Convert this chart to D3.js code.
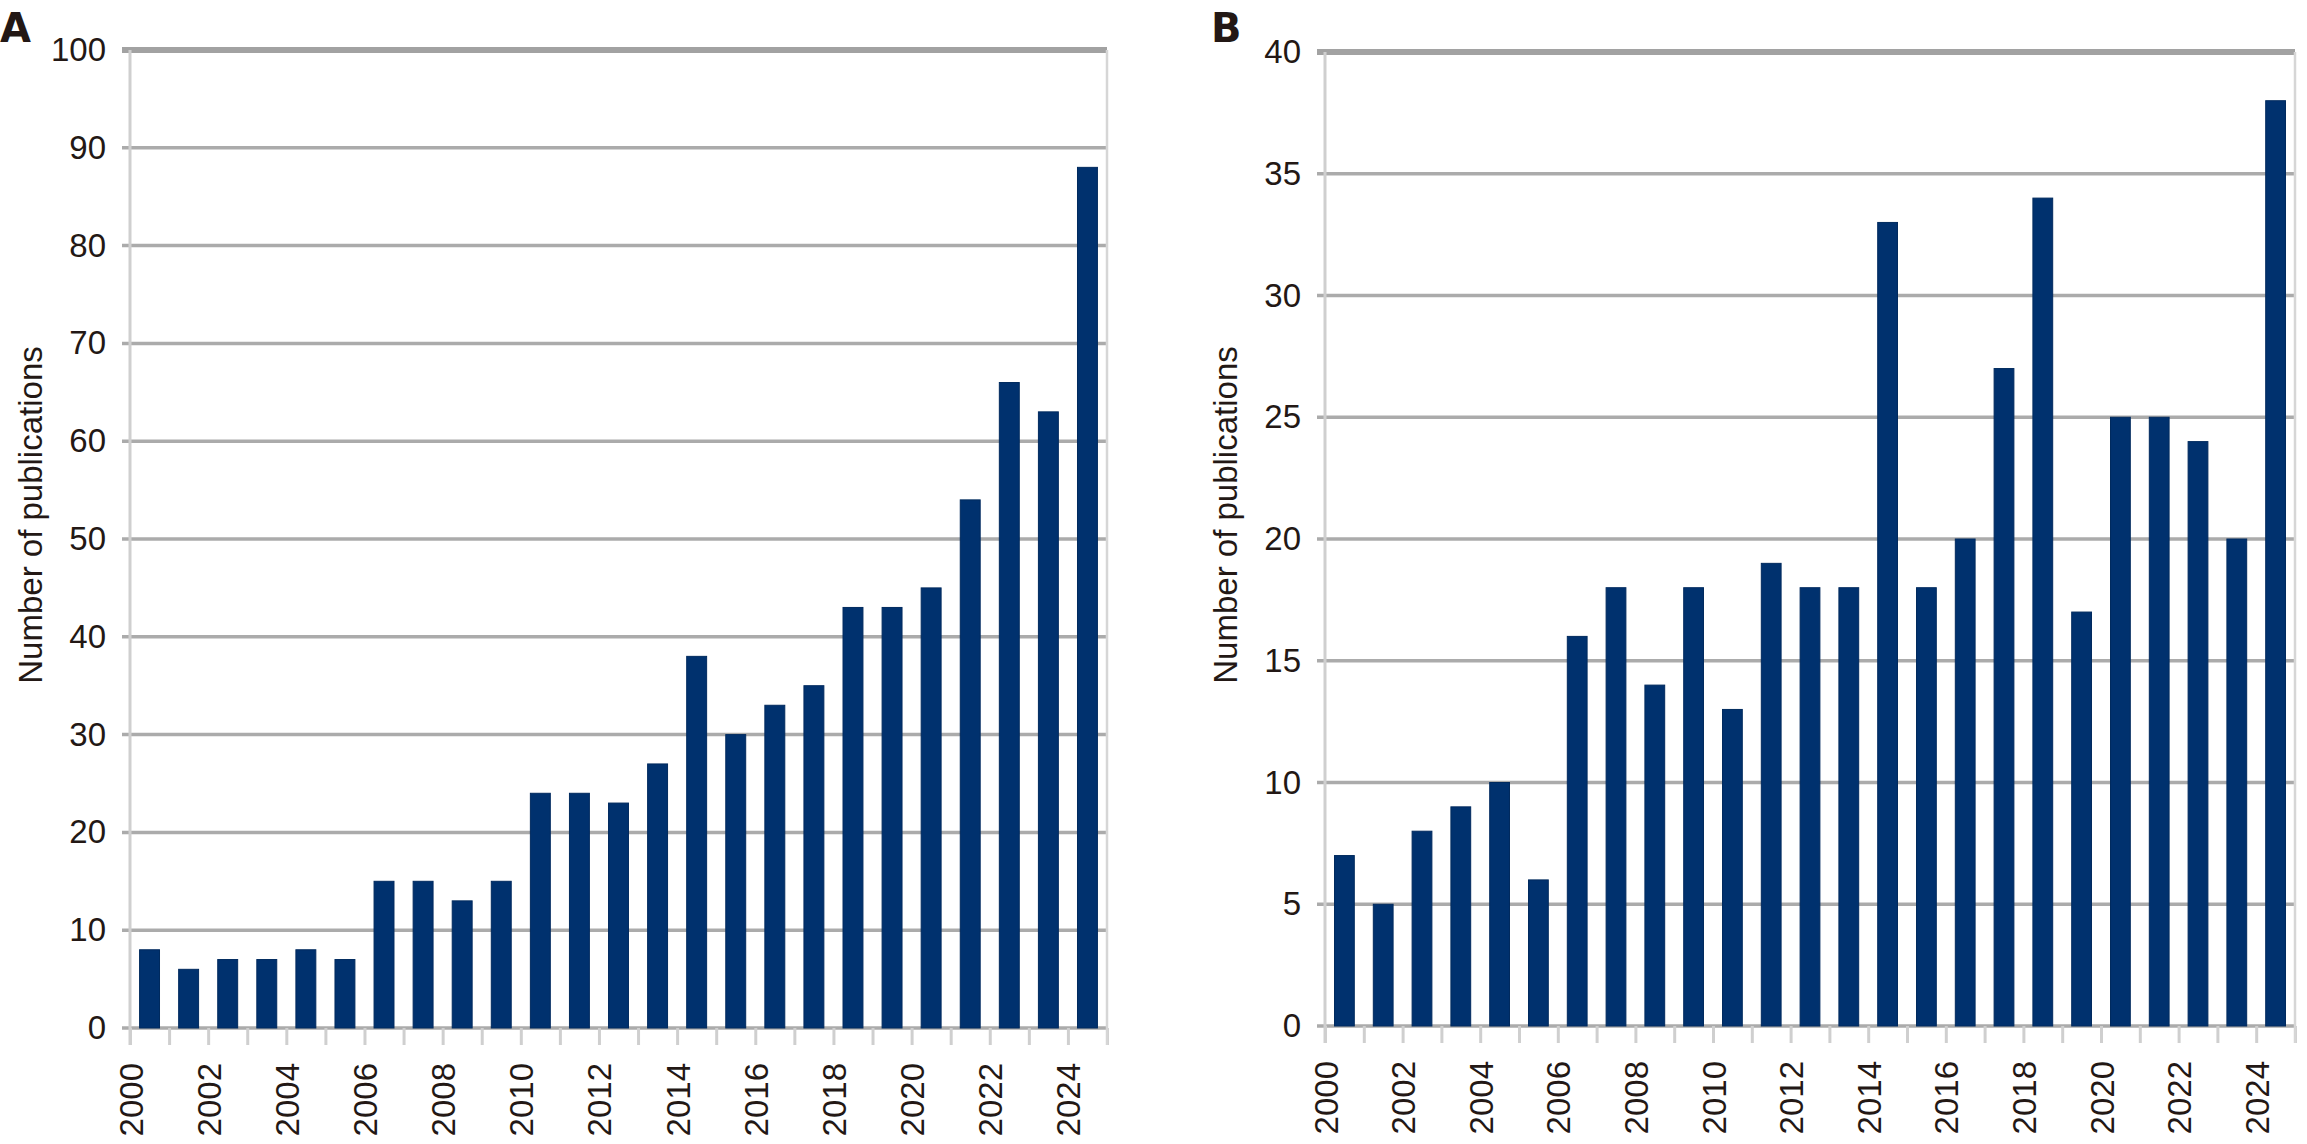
<!DOCTYPE html>
<html>
<head>
<meta charset="utf-8">
<script src="https://cdn.jsdelivr.net/npm/d3@7"></script>
<style>
  body { margin: 0; background: #fff; }
  svg { display: block; }
  text { font-family: "Liberation Sans", Arial, sans-serif; fill: #231815; }
</style>
</head>
<body>
<div id="chart"></div>
<script>
// data
var years = [2000, 2001, 2002, 2003, 2004, 2005, 2006, 2007, 2008, 2009, 2010, 2011, 2012,
             2013, 2014, 2015, 2016, 2017, 2018, 2019, 2020, 2021, 2022, 2023, 2024];
var pubsA = [8, 6, 7, 7, 8, 7, 15, 15, 13, 15, 24, 24, 23, 27, 38, 30, 33, 35, 43, 43, 45, 54, 66, 63, 88];
var pubsB = [7, 5, 8, 9, 10, 6, 16, 18, 14, 18, 13, 19, 18, 18, 33, 18, 20, 27, 34, 17, 25, 25, 24, 20, 38];
var yTicksA = [0, 10, 20, 30, 40, 50, 60, 70, 80, 90, 100];
var yTicksB = [0, 5, 10, 15, 20, 25, 30, 35, 40];
var yearLabels = [2000, 2002, 2004, 2006, 2008, 2010, 2012, 2014, 2016, 2018, 2020, 2022, 2024];

var barColor = "#00316e";
var gridColor = "#ababab";
var axisGrey = "#cfcfcf";

var svg = d3.select("#chart")
  .append("svg")
  .attr("width", 2307)
  .attr("height", 1144);

// panel boxes (pixel layout of each plot area)
var panels = [
  { letter: "A", values: pubsA, ticks: yTicksA, max: 100, left: 130, right: 1107, top: 50, bottom: 1028, letterX: 0 },
  { letter: "B", values: pubsB, ticks: yTicksB, max: 40, left: 1325, right: 2295, top: 52, bottom: 1026, letterX: 1211 }
];

panels.forEach(drawPanel);

function drawPanel(p) {
  var g = svg.append("g");
  var w = p.right - p.left;

  var x = d3.scaleBand()
    .domain(years)
    .range([p.left, p.right])
    .paddingInner(0.49)
    .paddingOuter(0.245);

  // boundaries between categories (ticks + labels sit here)
  var xEdge = d3.scaleLinear()
    .domain([years[0], years[years.length - 1] + 1])
    .range([p.left, p.right]);

  var y = d3.scaleLinear()
    .domain([0, p.max])
    .range([p.bottom, p.top]);

  // gridlines
  g.selectAll("line.grid")
    .data(p.ticks)
    .enter()
    .append("line")
    .attr("class", "grid")
    .attr("x1", p.left - 8)
    .attr("x2", p.right)
    .attr("y1", function (d) { return y(d); })
    .attr("y2", function (d) { return y(d); })
    .style("stroke", function (d) { return d === p.max ? "#a2a2a2" : gridColor; })
    .style("stroke-width", function (d) { return d === p.max ? 6 : 3.5; });

  // x ticks below baseline
  var xAxis = d3.axisBottom(xEdge)
    .tickValues(years.concat([years[years.length - 1] + 1]))
    .tickSize(17)
    .tickFormat("");
  var xg = g.append("g")
    .attr("transform", "translate(0," + p.bottom + ")")
    .call(xAxis);
  xg.select(".domain").remove();
  xg.selectAll(".tick line").style("stroke", axisGrey).style("stroke-width", 3);

  // year labels (rotated)
  g.selectAll("text.year")
    .data(yearLabels)
    .enter()
    .append("text")
    .attr("class", "year")
    .attr("transform", function (d) {
      return "translate(" + (xEdge(d) + 1) + "," + (p.bottom + 35) + ") rotate(-90)";
    })
    .attr("text-anchor", "end")
    .attr("dominant-baseline", "central")
    .style("font-size", "33px")
    .text(function (d) { return d; });

  // bars
  g.selectAll("rect.bar")
    .data(p.values)
    .enter()
    .append("rect")
    .attr("class", "bar")
    .attr("x", function (d, i) { return x(years[i]); })
    .attr("width", x.bandwidth())
    .attr("y", function (d) { return y(d); })
    .attr("height", function (d) { return p.bottom - y(d); })
    .style("fill", barColor)
    .style("stroke", "#002a5e")
    .style("stroke-width", 1);

  // left axis line and right border
  g.append("line")
    .attr("x1", p.left).attr("x2", p.left)
    .attr("y1", p.top).attr("y2", p.bottom + 17)
    .style("stroke", axisGrey).style("stroke-width", 3);
  g.append("line")
    .attr("x1", p.right).attr("x2", p.right)
    .attr("y1", p.top).attr("y2", p.bottom + 17)
    .style("stroke", "#d6d6d6").style("stroke-width", 2.5);

  // y tick labels
  var yAxis = d3.axisLeft(y)
    .tickValues(p.ticks)
    .tickSize(0)
    .tickPadding(24);
  var yg = g.append("g")
    .attr("transform", "translate(" + p.left + ",0)")
    .call(yAxis);
  yg.select(".domain").remove();
  yg.selectAll("text")
    .style("font-size", "33px")
    .style("font-family", "'Liberation Sans', Arial, sans-serif")
    .style("fill", "#231815");

  // y axis title
  g.append("text")
    .attr("transform", "translate(" + (p.left - 100) + ",515) rotate(-90)")
    .attr("text-anchor", "middle")
    .attr("dominant-baseline", "central")
    .style("font-size", "33px")
    .text("Number of publications");

  // panel letter
  g.append("text")
    .attr("x", p.letterX)
    .attr("y", 42)
    .style("font-family", "'DejaVu Sans', Verdana, sans-serif")
    .style("font-weight", "bold")
    .style("font-size", "40px")
    .text(p.letter);
}
</script>
</body>
</html>
